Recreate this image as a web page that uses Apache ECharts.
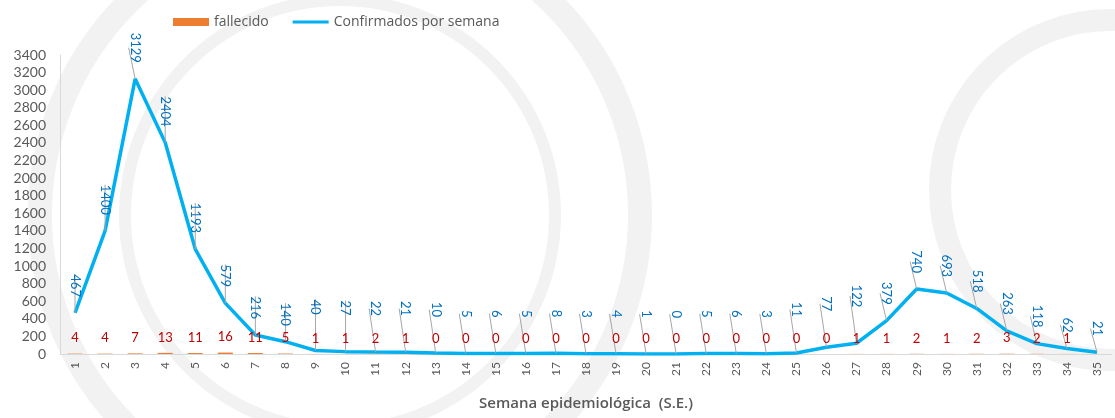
<!DOCTYPE html>
<html lang="es">
<head>
<meta charset="UTF-8">
<title>Confirmados y fallecidos por semana</title>
<style>
  html, body { margin: 0; padding: 0; background: #fff; }
  #chart { width: 1115px; height: 418px; }
</style>
</head>
<body>
<div id="chart"></div>
<script src="https://cdn.jsdelivr.net/npm/echarts@6/dist/echarts.min.js"></script>
<script>
// semanas epidemiologicas
var semanas = [];
for (var s = 1; s <= 35; s++) semanas.push(String(s));

var confirmados = [467, 1400, 3129, 2404, 1193, 579, 216, 140, 40, 27,
    22, 21, 10, 5, 6, 5, 8, 3, 4, 1,
    0, 5, 6, 3, 11, 77, 122, 379, 740, 693,
    518, 263, 118, 62, 21];

var fallecidos = [4, 4, 7, 13, 11, 16, 11, 5, 1, 1,
    2, 1, 0, 0, 0, 0, 0, 0, 0, 0,
    0, 0, 0, 0, 0, 0, 1, 1, 2, 1,
    2, 3, 2, 1, null];

var font = 'Lato';
var gris = '#595959';
var marca = '#f2f2f2';   // marca de agua del fondo

var chart = echarts.init(document.getElementById('chart'));
chart.setOption({
    backgroundColor: '#ffffff',
    animation: false,
    textStyle: { fontFamily: font },
    graphic: [
        { type: 'circle', silent: true, z: -10, shape: { cx: 340, cy: 215, r: 300 },
          style: { fill: 'none', stroke: marca, lineWidth: 24 } },
        { type: 'circle', silent: true, z: -10, shape: { cx: 340, cy: 215, r: 215 },
          style: { fill: 'none', stroke: marca, lineWidth: 12 } },
        { type: 'circle', silent: true, z: -10, shape: { cx: 1110, cy: 190, r: 170 },
          style: { fill: 'none', stroke: marca, lineWidth: 22 } }
    ],
    legend: {
        top: 10,
        left: 168,
        itemWidth: 36,
        itemHeight: 8,
        itemGap: 24,
        textStyle: { color: gris, fontSize: 14, fontFamily: 'Open Sans' },
        data: [
            { name: 'fallecido', icon: 'rect' },
            { name: 'Confirmados por semana', icon: 'path://M0,0 M0,2.5 L36,2.5 L36,5.5 L0,5.5 Z M36,8' }
        ]
    },
    grid: { left: 60, right: 3, top: 55, bottom: 64 },
    xAxis: {
        type: 'category',
        data: semanas,
        name: 'Semana epidemiológica  (S.E.)',
        nameLocation: 'middle',
        nameGap: 42,
        nameTextStyle: { color: gris, fontSize: 15, fontWeight: 600, fontFamily: 'Open Sans' },
        axisLine: { lineStyle: { color: '#d9d9d9' } },
        axisTick: { show: false },
        axisLabel: { rotate: 90, color: gris, fontSize: 12, margin: 8, interval: 0 }
    },
    yAxis: {
        type: 'value',
        min: 0,
        max: 3400,
        interval: 200,
        axisLine: { show: true, lineStyle: { color: '#d9d9d9' } },
        axisTick: { show: false },
        splitLine: { show: false },
        axisLabel: {
            color: gris,
            fontSize: 14,
            margin: 14,
            formatter: function (v) { return String(v); }
        }
    },
    series: [
        {
            name: 'fallecido',
            type: 'bar',
            data: fallecidos,
            barWidth: '50%',
            itemStyle: { color: '#ED7D31' },
            label: {
                show: true,
                position: 'top',
                distance: 9,
                color: '#C00000',
                fontSize: 13,
                fontFamily: font
            },
            z: 3
        },
        {
            name: 'Confirmados por semana',
            type: 'line',
            data: confirmados,
            showSymbol: true,
            symbol: 'circle',
            symbolSize: 0,
            lineStyle: { color: '#00B0F0', width: 3.5 },
            itemStyle: { color: '#00B0F0' },
            label: {
                show: true,
                position: 'top',
                distance: 16,
                rotate: -90,
                align: 'right',
                verticalAlign: 'middle',
                color: '#0070C0',
                fontSize: 13,
                fontFamily: font
            },
            // en el valle las etiquetas se suben por encima de las de fallecidos
            labelLayout: function (p) {
                return (p.dataIndex < 30 && confirmados[p.dataIndex] < 130) ? { dx: -20 } : {};
            },
            labelLine: { show: true, lineStyle: { color: '#a6a6a6', width: 1 } },
            z: 2
        }
    ]
});
</script>
</body>
</html>
